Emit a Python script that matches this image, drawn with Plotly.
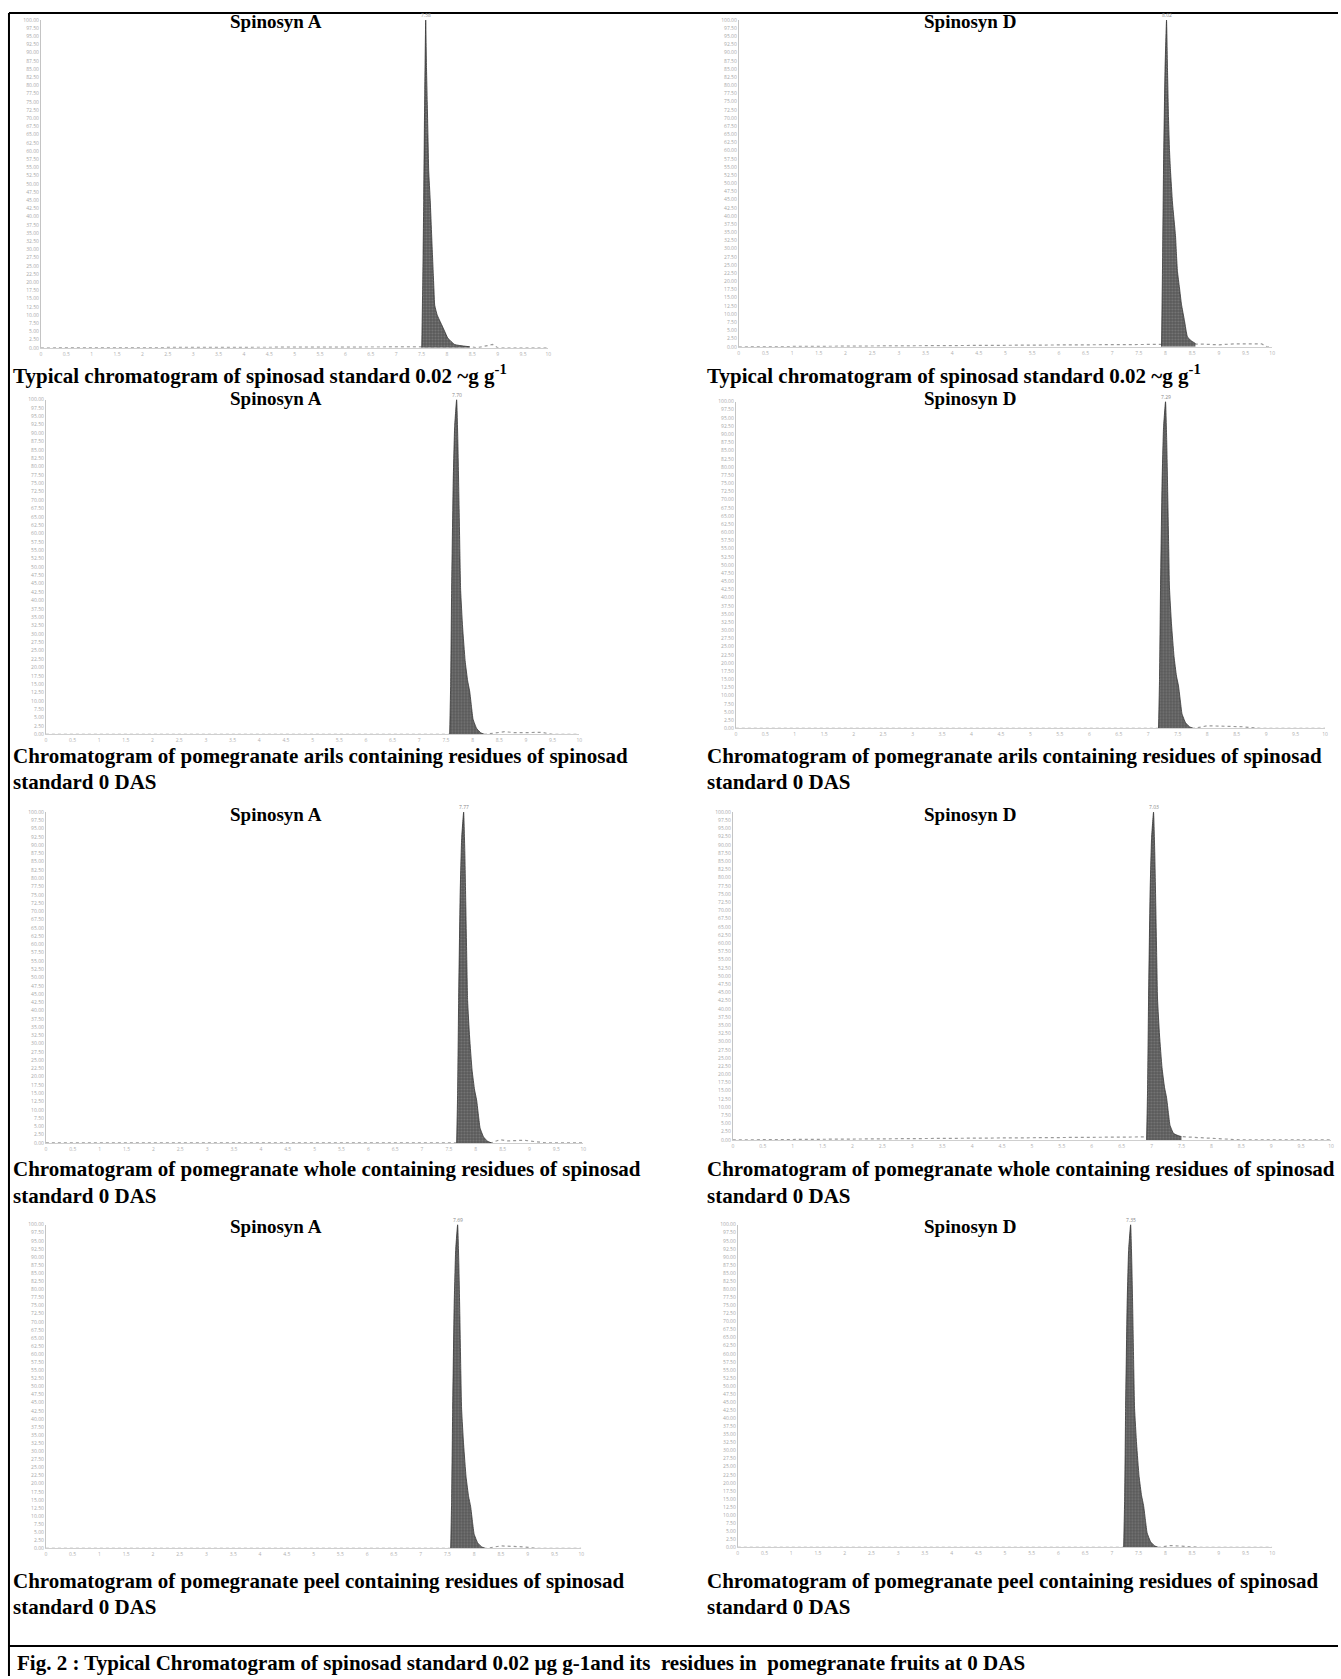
import plotly.graph_objects as go

W, H = 1341, 1679

# ---------------- data (retention time in min, relative intensity in %) ----------------
panel_titles = ["Spinosyn A", "Spinosyn D", "Spinosyn A", "Spinosyn D",
                "Spinosyn A", "Spinosyn D", "Spinosyn A", "Spinosyn D"]

a1_t = [7.505, 7.525, 7.544, 7.564, 7.583, 7.599, 7.613, 7.627, 7.642, 7.672, 7.701,
        7.717, 7.731, 7.745, 7.760, 7.809, 7.898, 7.957, 8.016, 8.153, 8.448]
a1_i = [0, 20, 45, 78, 100, 85, 75, 65, 54, 45, 34, 28, 23, 18, 13, 10, 7, 5, 3, 1, 0.3]

d1_t = [7.925, 7.944, 7.963, 7.991, 8.019, 8.037, 8.056, 8.075, 8.093, 8.131, 8.187,
        8.206, 8.224, 8.262, 8.299, 8.355, 8.411, 8.486, 8.561]
d1_i = [0, 25, 55, 85, 100, 85, 70, 60, 54, 44, 34, 28, 23, 18, 13, 8, 3, 1.8, 1.0]

a2_t = [7.570, 7.589, 7.607, 7.636, 7.664, 7.701, 7.723, 7.742, 7.761, 7.776, 7.813,
        7.860, 7.907, 7.944, 7.981, 8.009, 8.075, 8.150, 8.224]
a2_i = [0, 15, 43, 75, 92, 100, 88, 72, 55, 43, 32, 22, 16, 13, 8, 4.5, 1.8, 0.5, 0]

d2_t = [7.174, 7.191, 7.208, 7.234, 7.259, 7.293, 7.313, 7.330, 7.347, 7.360, 7.394,
        7.437, 7.479, 7.513, 7.547, 7.572, 7.631, 7.699, 7.766]
d2_i = [0, 15, 43, 75, 92, 100, 88, 72, 55, 43, 32, 22, 16, 13, 8, 4.5, 1.8, 0.5, 0]

a3_t = [7.644, 7.662, 7.681, 7.709, 7.737, 7.774, 7.796, 7.814, 7.833, 7.848, 7.885,
        7.931, 7.978, 8.015, 8.052, 8.080, 8.145, 8.219, 8.293]
a3_i = [0, 15, 43, 75, 92, 100, 88, 72, 55, 43, 32, 22, 16, 13, 8, 4.5, 1.8, 0.5, 0]

d3_t = [6.917, 6.933, 6.950, 6.975, 7.000, 7.033, 7.053, 7.070, 7.087, 7.100, 7.133,
        7.175, 7.217, 7.250, 7.283, 7.308, 7.367, 7.433, 7.500]
d3_i = [0, 15, 43, 75, 92, 100, 88, 72, 55, 43, 32, 22, 16, 13, 8, 4.5, 2.0, 1.4, 1.0]

a4_t = [7.561, 7.579, 7.598, 7.626, 7.654, 7.691, 7.713, 7.732, 7.750, 7.765, 7.803,
        7.849, 7.896, 7.933, 7.970, 7.998, 8.063, 8.138, 8.212]
a4_i = [0, 15, 43, 75, 92, 100, 88, 72, 55, 43, 32, 22, 16, 13, 8, 4.5, 1.8, 0.5, 0]

d4_t = [7.220, 7.239, 7.257, 7.285, 7.313, 7.351, 7.373, 7.392, 7.410, 7.425, 7.463,
        7.509, 7.556, 7.593, 7.631, 7.659, 7.724, 7.799, 7.873]
d4_i = [0, 15, 43, 75, 92, 100, 88, 72, 55, 43, 32, 22, 16, 13, 8, 4.5, 1.8, 0.5, 0]

# baseline traces (noise / small humps after the main peak)
b1_t = [0.0, 8.45, 8.60, 8.90, 9.00, 10.0]
b1_i = [0, 0.3, 0, 1.0, 0, 0]
b2_t = [0.0, 8.56, 8.70, 9.00, 9.30, 9.80, 9.90, 10.0]
b2_i = [0, 1.0, 0.8, 0.6, 0.9, 0.9, 0, 0]
b3_t = [0.0, 8.22, 8.60, 8.80, 9.30, 9.50, 10.0]
b3_i = [0, 0, 0.8, 0.5, 0.6, 0, 0]
b4_t = [0.0, 7.77, 8.00, 8.30, 8.60, 8.90, 10.0]
b4_i = [0, 0, 0.8, 0.6, 0.5, 0, 0]
b5_t = [0.0, 8.29, 8.45, 8.60, 8.90, 9.30, 10.0]
b5_i = [0, 0, 1.0, 0.6, 0.8, 0, 0]
b6_t = [0.0, 7.50, 7.90, 8.20, 8.50, 10.0]
b6_i = [0, 1.0, 0.6, 0.3, 0, 0]
b7_t = [0.0, 8.21, 8.50, 8.90, 9.20, 10.0]
b7_i = [0, 0, 0.8, 0.5, 0, 0]
b8_t = [0.0, 7.87, 8.10, 8.40, 8.70, 10.0]
b8_i = [0, 0, 0.6, 0.4, 0, 0]

peak_labels = ["7.58", "8.02", "7.70", "7.29", "7.77", "7.03", "7.69", "7.35"]

std_caption = "Typical chromatogram of spinosad standard 0.02 ~g g<sup>-1</sup>"
arils_caption = ["Chromatogram of pomegranate arils containing residues of spinosad", "standard 0 DAS"]
whole_caption = ["Chromatogram of pomegranate whole containing residues of spinosad", "standard 0 DAS"]
peel_caption = ["Chromatogram of pomegranate peel containing residues of spinosad", "standard 0 DAS"]
fig_caption = "Fig. 2 : Typical Chromatogram of spinosad standard 0.02 \u00b5g g-1and its  residues in  pomegranate fruits at 0 DAS"

y_ticks = [v * 2.5 for v in range(41)]

peaks = [(a1_t, a1_i), (d1_t, d1_i), (a2_t, a2_i), (d2_t, d2_i),
         (a3_t, a3_i), (d3_t, d3_i), (a4_t, a4_i), (d4_t, d4_i)]
bases = [(b1_t, b1_i), (b2_t, b2_i), (b3_t, b3_i), (b4_t, b4_i),
         (b5_t, b5_i), (b6_t, b6_i), (b7_t, b7_i), (b8_t, b8_i)]

# ---------------- layout geometry (pixels) ----------------
boxes = [  # x0, x1, ytop, ybase
    (40, 549, 17, 346), (740, 1275, 17, 345),
    (45, 580, 398, 734), (737, 1328, 400, 728),
    (45, 584, 812, 1144), (734, 1334, 812, 1141),
    (45, 582, 1226, 1551), (739, 1275, 1226, 1550),
]


def px(x):
    return x / W


def py(y):
    return 1 - y / H


SERIF = "Liberation Serif, Times New Roman, serif"

fig = go.Figure()
layout = dict(
    width=W, height=H, margin=dict(l=0, r=0, t=0, b=0),
    paper_bgcolor="white", plot_bgcolor="white", showlegend=False,
)

for k, ((pt, pi), (bt, bi), (x0, x1, yt, yb)) in enumerate(zip(peaks, bases, boxes)):
    n = k + 1
    xa = "x" if n == 1 else f"x{n}"
    ya = "y" if n == 1 else f"y{n}"
    fig.add_trace(go.Scatter(
        x=bt, y=bi, xaxis=xa, yaxis=ya, mode="lines",
        line=dict(color="#9a9a9a", width=1.2, dash="dot"), hoverinfo="skip"))
    fig.add_trace(go.Scatter(
        x=pt, y=pi, xaxis=xa, yaxis=ya, mode="lines", fill="tozeroy",
        fillcolor="#5e5e5e",
        fillpattern=dict(shape=".", bgcolor="#5a5a5a", fgcolor="#959595", size=3, solidity=0.35),
        line=dict(color="#333333", width=0.8, shape="spline", smoothing=0.4)))
    axx = dict(domain=[px(x0), px(x1)], range=[0, 10], anchor=ya,
               showline=True, linecolor="#cfcfcf", linewidth=1,
               showgrid=False, zeroline=False, ticks="", dtick=0.5,
               tickfont=dict(size=5, color="#b0b0b0"), ticklabelstandoff=1)
    axy = dict(domain=[py(yb), py(yt)], range=[0, 100], anchor=xa,
               showline=True, linecolor="#c4c4c4", linewidth=1,
               showgrid=False, zeroline=False, ticks="", tickvals=y_ticks,
               ticktext=[f"{v:.2f}" for v in y_ticks],
               tickfont=dict(size=5, color="#a8a8a8"))
    layout["xaxis" if n == 1 else f"xaxis{n}"] = axx
    layout["yaxis" if n == 1 else f"yaxis{n}"] = axy

fig.update_layout(**layout)

# apex labels
for k, (pt, pi) in enumerate(peaks):
    n = k + 1
    xa = "x" if n == 1 else f"x{n}"
    ya = "y" if n == 1 else f"y{n}"
    j = pi.index(max(pi))
    fig.add_annotation(x=pt[j], y=pi[j], xref=xa, yref=ya, text=peak_labels[k],
                       showarrow=False, yanchor="bottom", yshift=0,
                       font=dict(size=5, color="#888"))

# panel titles
title_x = [276, 972]
title_y = [19, 397, 814, 1228]
for r in range(4):
    for c in range(2):
        fig.add_annotation(x=px(title_x[c]), y=py(title_y[r]), xref="paper", yref="paper",
                           text=panel_titles[2 * r + c], showarrow=False,
                           xanchor="center", yanchor="middle",
                           font=dict(family=SERIF, size=19, color="black", weight="bold"))

cap_x = [10, 706]
capfont = dict(family=SERIF, size=21, color="black", weight="bold")


def add_cap(text, x, y):
    fig.add_annotation(x=px(x), y=py(y), xref="paper", yref="paper", text=text,
                       showarrow=False, xanchor="left", yanchor="middle", font=capfont)


for c in range(2):
    add_cap(std_caption, cap_x[c], 373)
    add_cap(arils_caption[0], cap_x[c], 756)
    add_cap(arils_caption[1], cap_x[c], 782)
    add_cap(whole_caption[0], cap_x[c], 1170)
    add_cap(whole_caption[1], cap_x[c], 1197)
    add_cap(peel_caption[0], cap_x[c], 1584)
    add_cap(peel_caption[1], cap_x[c], 1610)

add_cap(fig_caption, 14, 1666)

# frame lines
frame = dict(color="black", width=2)
fig.add_shape(type="line", xref="paper", yref="paper", x0=px(8), x1=1, y0=py(10), y1=py(10), line=frame)
fig.add_shape(type="line", xref="paper", yref="paper", x0=px(8), x1=px(8), y0=py(10), y1=0, line=frame)
fig.add_shape(type="line", xref="paper", yref="paper", x0=px(8), x1=1, y0=py(1649), y1=py(1649), line=frame)

fig.write_html("out.html", config={"displayModeBar": False},
               post_script="document.body.style.margin='0';document.body.style.overflow='hidden';")
